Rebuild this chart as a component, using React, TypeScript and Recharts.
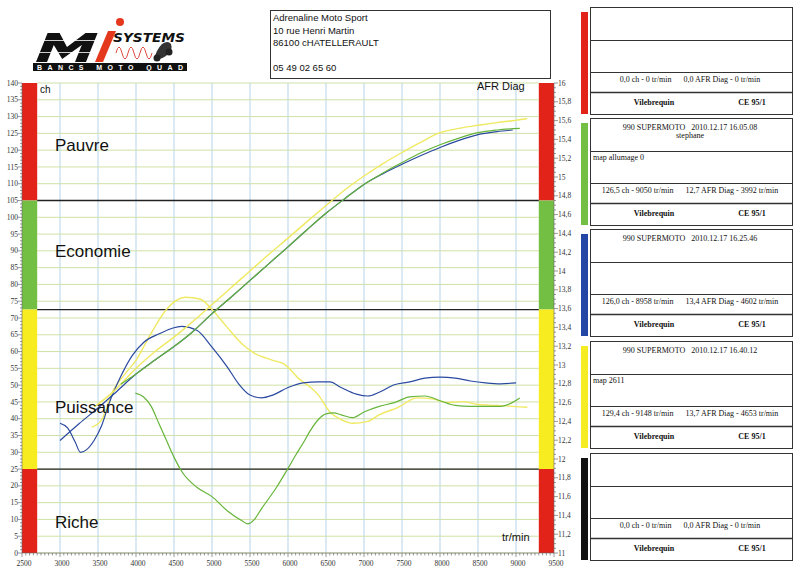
import React from 'react';
import { ComposedChart, Line, XAxis, YAxis, ReferenceLine, ReferenceArea } from 'recharts';

// ---- axes ----
const rpmLabels = [2500, 3000, 3500, 4000, 4500, 5000, 5500, 6000, 6500, 7000, 7500, 8000, 8500, 9000, 9500];
const rpmGrid = [3000, 3500, 4000, 4500, 5000, 5500, 6000, 6500, 7000, 7500, 8000, 8500, 9000];
const chLabels = [0, 5, 10, 15, 20, 25, 30, 35, 40, 45, 50, 55, 60, 65, 70, 75, 80, 85, 90, 95, 100, 105, 110, 115, 120, 125, 130, 135, 140];
const afrLabels = [11, 11.2, 11.4, 11.6, 11.8, 12, 12.2, 12.4, 12.6, 12.8, 13, 13.2, 13.4, 13.6, 13.8, 14, 14.2, 14.4, 14.6, 14.8, 15, 15.2, 15.4, 15.6, 15.8, 16];

// zone bands (ch axis) : [from, to]
const zoneBands = [[105, 140], [72.5, 105], [25, 72.5], [0, 25]];
const zoneColors = ['#e2231a', '#72bf44', '#f7ec1f', '#e2231a'];
const zoneLines = [105, 72.5, 25];
const zoneNames = ['Pauvre', 'Economie', 'Puissance', 'Riche'];

// ---- green run (16.05.08) ----
const greenPowerRpm = [3800, 4000, 4250, 4500, 4750, 5000, 5250, 5500, 5750, 6000, 6250, 6500, 6750, 7000, 7250, 7500, 7750, 8000, 8250, 8500, 8750, 9050];
const greenPowerCh = [50.3, 53.3, 57.5, 61.5, 66, 71.3, 76.2, 81.2, 86.2, 91.2, 96.3, 101.2, 105.6, 109.8, 113.2, 116.3, 119.2, 121.6, 123.6, 125.2, 126, 126.5];
const greenAfrRpm = [3992, 4100, 4200, 4300, 4400, 4500, 4600, 4800, 5000, 5200, 5400, 5470, 5550, 5650, 5850, 6000, 6100, 6200, 6300, 6400, 6500, 6600, 6700, 6850, 7000, 7200, 7400, 7600, 7800, 8000, 8200, 8400, 8600, 8800, 8950, 9050];
const greenAfr = [12.7, 12.66, 12.56, 12.38, 12.2, 12.02, 11.87, 11.7, 11.6, 11.45, 11.34, 11.31, 11.35, 11.47, 11.7, 11.9, 12.04, 12.17, 12.31, 12.42, 12.48, 12.49, 12.47, 12.44, 12.5, 12.56, 12.6, 12.66, 12.67, 12.62, 12.57, 12.56, 12.56, 12.56, 12.6, 12.65];

// ---- blue run (16.25.46) ----
const bluePowerRpm = [3000, 3250, 3500, 3750, 4000, 4250, 4500, 4750, 5000, 5250, 5500, 5750, 6000, 6250, 6500, 6750, 7000, 7250, 7500, 7750, 8000, 8250, 8500, 8750, 8958];
const bluePowerCh = [33.5, 38.5, 43.2, 48.2, 53.3, 57.5, 61.5, 66, 71.3, 76.2, 81.2, 86.2, 91.2, 96.3, 101.2, 105.6, 109.8, 113, 115.8, 118.4, 120.8, 122.9, 124.6, 125.5, 126.0];
const blueAfrRpm = [3000, 3100, 3200, 3270, 3350, 3450, 3550, 3650, 3800, 3950, 4100, 4300, 4600, 4800, 5000, 5200, 5350, 5500, 5650, 5800, 6000, 6200, 6400, 6550, 6700, 6900, 7050, 7200, 7400, 7600, 7800, 8000, 8200, 8400, 8600, 8800, 9000];
const blueAfr = [12.38, 12.33, 12.18, 12.07, 12.1, 12.2, 12.36, 12.6, 12.88, 13.1, 13.24, 13.33, 13.41, 13.37, 13.19, 12.98, 12.8, 12.68, 12.65, 12.68, 12.76, 12.81, 12.82, 12.82, 12.76, 12.69, 12.67, 12.71, 12.79, 12.82, 12.86, 12.87, 12.86, 12.83, 12.81, 12.8, 12.81];

// ---- yellow run (16.40.12) ----
const yellowPowerRpm = [3450, 3700, 4000, 4250, 4500, 4750, 5000, 5250, 5500, 5750, 6000, 6250, 6500, 6750, 7000, 7250, 7500, 7750, 8000, 8250, 8500, 8750, 9000, 9148];
const yellowPowerCh = [43.5, 48, 55, 60, 64.3, 69, 74, 79, 84, 89, 93.8, 98.7, 103.5, 108.2, 112.3, 116, 119.3, 122.4, 125.2, 126.5, 127.4, 128.2, 128.9, 129.4];
const yellowAfrRpm = [3420, 3550, 3700, 3850, 4000, 4200, 4400, 4650, 4850, 5000, 5200, 5400, 5550, 5800, 5950, 6150, 6300, 6400, 6550, 6700, 6850, 7050, 7200, 7450, 7700, 7900, 8100, 8300, 8500, 8750, 8950, 9150];
const yellowAfr = [12.34, 12.42, 12.73, 12.9, 13.05, 13.34, 13.59, 13.72, 13.7, 13.59, 13.4, 13.22, 13.13, 13.05, 13.01, 12.85, 12.76, 12.68, 12.5, 12.42, 12.38, 12.4, 12.47, 12.55, 12.65, 12.64, 12.6, 12.61, 12.58, 12.57, 12.56, 12.55];

// ---- side legend boxes ----
const boxTops = [7, 118, 229, 341, 453];
const boxColors = ['#e2231a', '#72bf44', '#2447a5', '#f6ec23', '#111111'];
const boxTitles = ['', '990 SUPERMOTO   2010.12.17 16.05.08', '990 SUPERMOTO   2010.12.17 16.25.46', '990 SUPERMOTO   2010.12.17 16.40.12', ''];
const boxSubtitles = ['', 'stephane', '', '', ''];
const boxNotes = ['', 'map allumage 0', '', 'map 2611', ''];
const boxPeaks = [
  '0,0 ch - 0 tr/min      0,0 AFR Diag - 0 tr/min',
  '126,5 ch - 9050 tr/min      12,7 AFR Diag - 3992 tr/min',
  '126,0 ch - 8958 tr/min      13,4 AFR Diag - 4602 tr/min',
  '129,4 ch - 9148 tr/min      13,7 AFR Diag - 4653 tr/min',
  '0,0 ch - 0 tr/min      0,0 AFR Diag - 0 tr/min',
];

const addressLines = ['Adrenaline Moto Sport', '10 rue Henri Martin', '86100 cHATELLERAULT', '', '05 49 02 65 60'];

const COL_GREEN = '#66b43a';
const COL_BLUE = '#2b4a9f';
const COL_YELLOW = '#efe962';

const zip = (xs: number[], ys: number[], key: string) => xs.map((x, i) => ({ rpm: x, [key]: ys[i] }));

const range = (a: number, b: number, step: number) => {
  const out: number[] = [];
  const n = Math.round((b - a) / step);
  for (let i = 0; i <= n; i++) out.push(Math.round((a + i * step) * 1000) / 1000);
  return out;
};
const rpmTicks = range(2500, 9500, 50);
const chTicks = range(0, 140, 1);
const afrTicks = range(11, 16, 0.05);
const isIn = (arr: number[], v: number) => arr.some((m) => Math.abs(m - v) < 1e-6);

const SERIF = 'Liberation Serif, Times New Roman, serif';
const SANS = 'Liberation Sans, Arial, sans-serif';

function LeftTick(props: any) {
  const { x, y, payload } = props;
  const v = payload.value;
  const major = isIn(chLabels, v);
  return (
    <g>
      <line x1={x - (major ? 4 : 2)} x2={x} y1={y} y2={y} stroke="#555" strokeWidth={0.6} />
      {major && (
        <text x={x - 4} y={y + 2.6} textAnchor="end" fontSize={7.5} fontFamily={SERIF} fill="#333">
          {v}
        </text>
      )}
    </g>
  );
}

function RightTick(props: any) {
  const { x, y, payload } = props;
  const v = payload.value;
  const major = isIn(afrLabels, v);
  return (
    <g>
      <line x1={x} x2={x + (major ? 4 : 2)} y1={y} y2={y} stroke="#555" strokeWidth={0.6} />
      {major && (
        <text x={x + 4} y={y + 2.6} textAnchor="start" fontSize={7.5} fontFamily={SERIF} fill="#333">
          {String(v).replace('.', ',')}
        </text>
      )}
    </g>
  );
}

function BottomTick(props: any) {
  const { x, y, payload } = props;
  const v = payload.value;
  const major = isIn(rpmLabels, v);
  return (
    <g>
      <line x1={x} x2={x} y1={y} y2={y + (major ? 4 : 2.5)} stroke="#555" strokeWidth={0.6} />
      {major && (
        <text x={x + 2} y={y + 13} textAnchor="middle" fontSize={7.5} fontFamily={SERIF} fill="#333">
          {v}
        </text>
      )}
    </g>
  );
}

function Logo() {
  return (
    <g>
      <polygon
        points="36,62 47.6,33 59.6,33 67,47 85.6,33 97.6,33 86,62 75,62 81.8,45 62.2,59 53.8,45 47,62"
        fill="#111"
      />
      <line x1={40} x2={96} y1={40.5} y2={40.5} stroke="#fff" strokeWidth={0.8} />
      <line x1={38} x2={94} y1={52.5} y2={52.5} stroke="#fff" strokeWidth={0.8} />
      <polygon points="95,62 103,62 116,31 108,31" fill="#e4381d" />
      <circle cx={120} cy={22} r={4} fill="#e4381d" />
      <text
        x={113}
        y={42}
        fontSize={12}
        fontWeight={700}
        fontStyle="italic"
        fontFamily="DejaVu Sans, sans-serif"
        fill="#111"
        textLength={72}
        lengthAdjust="spacingAndGlyphs"
      >
        SYSTEMS
      </text>
      <path d="M116,53 q3,-12 6,0 t6,0 t6,0 t6,0 t6,0 t6,0" fill="none" stroke="#d9362a" strokeWidth={0.9} />
      <path d="M154,60 q2,-10 8,-16 q6,-4 9,0 q2,6 -3,10 q-4,5 -14,6 z" fill="#333" />
      <circle cx={157} cy={58} r={3.5} fill="#222" />
      <circle cx={169} cy={52} r={3.5} fill="#222" />
      <rect x={33} y={63} width={154} height={8} fill="#111" />
      <text x={37} y={69.8} fontSize={7} fontWeight={700} fontFamily={SANS} fill="#fff" textLength={146} lengthAdjust="spacing">
        BANCS MOTO QUAD
      </text>
    </g>
  );
}

export default function App() {
  return (
    <div style={{ position: 'absolute', left: 0, top: 0, width: 800, height: 569, background: '#fff', overflow: 'hidden' }}>
      <ComposedChart width={800} height={569} margin={{ top: 83, right: 216, bottom: 0, left: 0 }}>
        <XAxis
          xAxisId="x"
          dataKey="rpm"
          type="number"
          domain={[2500, 9500]}
          ticks={rpmTicks}
          interval={0}
          tickSize={0}
          tickMargin={0}
          tickLine={false}
          height={16}
          axisLine={{ stroke: '#666', strokeWidth: 0.6 }}
          tick={(p: any) => <BottomTick {...p} />}
          allowDataOverflow
        />
        <YAxis
          yAxisId="left"
          orientation="left"
          type="number"
          domain={[0, 140]}
          ticks={chTicks}
          interval={0}
          width={22}
          tickSize={0}
          tickMargin={0}
          tickLine={false}
          axisLine={{ stroke: '#666', strokeWidth: 0.6 }}
          tick={(p: any) => <LeftTick {...p} />}
          allowDataOverflow
        />
        <YAxis
          yAxisId="right"
          orientation="right"
          type="number"
          domain={[11, 16]}
          ticks={afrTicks}
          interval={0}
          width={30}
          tickSize={0}
          tickMargin={0}
          tickLine={false}
          axisLine={{ stroke: '#666', strokeWidth: 0.6 }}
          tick={(p: any) => <RightTick {...p} />}
          allowDataOverflow
        />

        {rpmGrid.map((v) => (
          <ReferenceLine key={'vg' + v} xAxisId="x" yAxisId="left" x={v} stroke="#b7d3ea" strokeWidth={1} />
        ))}
        {chLabels.map((v) => (
          <ReferenceLine
            key={'hg' + v}
            xAxisId="x"
            yAxisId="left"
            segment={[{ x: 2700, y: v }, { x: 9300, y: v }]}
            stroke="#cfe1a6"
            strokeWidth={1}
          />
        ))}
        {zoneLines.map((v) => (
          <ReferenceLine
            key={'zl' + v}
            xAxisId="x"
            yAxisId="left"
            segment={[{ x: 2700, y: v }, { x: 9300, y: v }]}
            stroke="#222"
            strokeWidth={1.3}
          />
        ))}
        {zoneBands.map((b, i) => (
          <ReferenceArea key={'zl-l' + i} xAxisId="x" yAxisId="left" x1={2500} x2={2700} y1={b[0]} y2={b[1]} fill={zoneColors[i]} fillOpacity={1} stroke="none" />
        ))}
        {zoneBands.map((b, i) => (
          <ReferenceArea key={'zl-r' + i} xAxisId="x" yAxisId="left" x1={9300} x2={9500} y1={b[0]} y2={b[1]} fill={zoneColors[i]} fillOpacity={1} stroke="none" />
        ))}

        <Line xAxisId="x" yAxisId="right" data={zip(yellowAfrRpm, yellowAfr, 'v')} dataKey="v" type="monotone" stroke={COL_YELLOW} strokeWidth={1.4} dot={false} isAnimationActive={false} />
        <Line xAxisId="x" yAxisId="right" data={zip(greenAfrRpm, greenAfr, 'v')} dataKey="v" type="monotone" stroke={COL_GREEN} strokeWidth={1.2} dot={false} isAnimationActive={false} />
        <Line xAxisId="x" yAxisId="right" data={zip(blueAfrRpm, blueAfr, 'v')} dataKey="v" type="monotone" stroke={COL_BLUE} strokeWidth={1.2} dot={false} isAnimationActive={false} />
        <Line xAxisId="x" yAxisId="left" data={zip(yellowPowerRpm, yellowPowerCh, 'v')} dataKey="v" type="monotone" stroke={COL_YELLOW} strokeWidth={1.4} dot={false} isAnimationActive={false} />
        <Line xAxisId="x" yAxisId="left" data={zip(bluePowerRpm, bluePowerCh, 'v')} dataKey="v" type="monotone" stroke={COL_BLUE} strokeWidth={1.2} dot={false} isAnimationActive={false} />
        <Line xAxisId="x" yAxisId="left" data={zip(greenPowerRpm, greenPowerCh, 'v')} dataKey="v" type="monotone" stroke={COL_GREEN} strokeWidth={1.2} dot={false} isAnimationActive={false} />
      </ComposedChart>

      <svg width={800} height={569} style={{ position: 'absolute', left: 0, top: 0, pointerEvents: 'none' }}>
        <Logo />
        <rect x={270.5} y={10.5} width={280} height={68} fill="none" stroke="#333" strokeWidth={1} />
        {addressLines.map((t, i) => (
          <text key={'ad' + i} x={273} y={21 + i * 12.6} fontSize={9.5} fontFamily={SANS} fill="#111">
            {t}
          </text>
        ))}

        <text x={40} y={93} fontSize={10} fontFamily={SANS} fill="#111">ch</text>
        <text x={477} y={90} fontSize={11} fontFamily={SANS} fill="#111">AFR Diag</text>
        <text x={502} y={541} fontSize={11} fontFamily={SANS} fill="#111">tr/min</text>
        {zoneNames.map((n, i) => (
          <text key={n} x={55} y={[151, 257, 413, 528][i]} fontSize={17} fontFamily={SANS} fill="#111">
            {n}
          </text>
        ))}

        {boxTops.map((top, i) => (
          <g key={'box' + i}>
            <rect x={581} y={top + 5} width={7} height={102} fill={boxColors[i]} />
            <rect x={590.5} y={top + 0.5} width={202} height={107} fill="#fff" stroke="#333" strokeWidth={1} />
            <line x1={590.5} x2={792.5} y1={top + 33.5} y2={top + 33.5} stroke="#333" strokeWidth={1} />
            <line x1={590.5} x2={792.5} y1={top + 65.5} y2={top + 65.5} stroke="#333" strokeWidth={1} />
            <line x1={590.5} x2={792.5} y1={top + 85.5} y2={top + 85.5} stroke="#333" strokeWidth={1.3} />
            <text x={690} y={top + 12} textAnchor="middle" fontSize={8} fontFamily={SERIF} fill="#111" xmlSpace="preserve">
              {boxTitles[i]}
            </text>
            <text x={690} y={top + 20} textAnchor="middle" fontSize={8} fontFamily={SERIF} fill="#111">
              {boxSubtitles[i]}
            </text>
            <text x={593} y={top + 42} fontSize={8} fontFamily={SERIF} fill="#111">
              {boxNotes[i]}
            </text>
            <text x={690} y={top + 75} textAnchor="middle" fontSize={8} fontFamily={SERIF} fill="#111" xmlSpace="preserve">
              {boxPeaks[i]}
            </text>
            <text x={654} y={top + 98} textAnchor="middle" fontSize={8} fontWeight={700} fontFamily={SERIF} fill="#111">
              Vilebrequin
            </text>
            <text x={752} y={top + 98} textAnchor="middle" fontSize={8} fontWeight={700} fontFamily={SERIF} fill="#111">
              CE 95/1
            </text>
          </g>
        ))}
      </svg>
    </div>
  );
}
